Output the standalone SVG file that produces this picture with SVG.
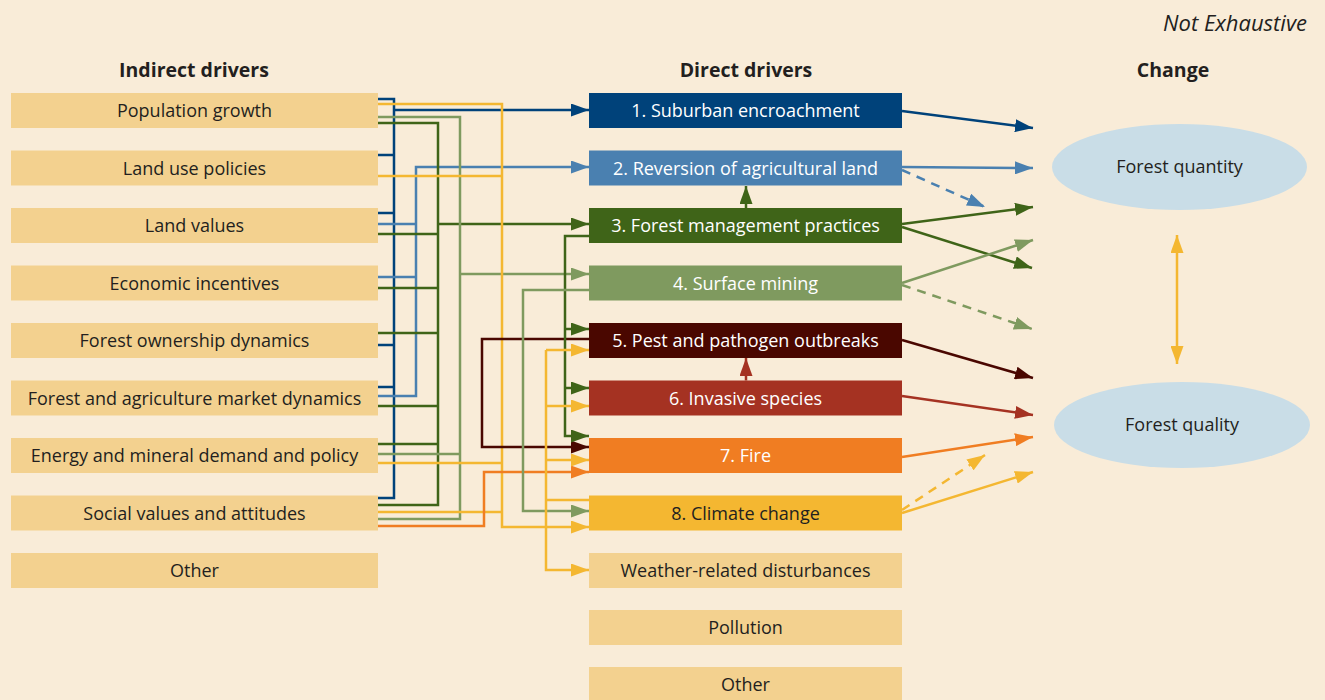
<svg xmlns="http://www.w3.org/2000/svg" width="1325" height="700" viewBox="0 0 1325 700">
<style>
.bg{fill:#f9ecd8}
.box{fill:#f3d18f}
.t{font-family:"Open Sans","Liberation Sans",sans-serif;font-size:18px;fill:#231f20;text-anchor:middle}
.w{fill:#ffffff}
.h{font-family:"Open Sans","Liberation Sans",sans-serif;font-size:19.5px;font-weight:bold;fill:#231f20;text-anchor:middle}
.c{fill:none;stroke-width:2.5;stroke-linejoin:miter}
.dash{stroke-dasharray:9 7}
.b1{stroke:#00427a}.b2{stroke:#4a80b0}.b3{stroke:#3f6418}.b4{stroke:#7f9a5f}.b5{stroke:#4a0700}.b6{stroke:#a53222}.b7{stroke:#f07d22}.b8{stroke:#f4b731}
</style>
<defs>
<marker id="m1" markerUnits="userSpaceOnUse" markerWidth="18" markerHeight="13" refX="18" refY="6.5" orient="auto"><path d="M0,0 L18,6.5 L0,13 z" fill="#00427a"/></marker>
<marker id="m2" markerUnits="userSpaceOnUse" markerWidth="18" markerHeight="13" refX="18" refY="6.5" orient="auto"><path d="M0,0 L18,6.5 L0,13 z" fill="#4a80b0"/></marker>
<marker id="m3" markerUnits="userSpaceOnUse" markerWidth="18" markerHeight="13" refX="18" refY="6.5" orient="auto"><path d="M0,0 L18,6.5 L0,13 z" fill="#3f6418"/></marker>
<marker id="m4" markerUnits="userSpaceOnUse" markerWidth="18" markerHeight="13" refX="18" refY="6.5" orient="auto"><path d="M0,0 L18,6.5 L0,13 z" fill="#7f9a5f"/></marker>
<marker id="m5" markerUnits="userSpaceOnUse" markerWidth="18" markerHeight="13" refX="18" refY="6.5" orient="auto"><path d="M0,0 L18,6.5 L0,13 z" fill="#4a0700"/></marker>
<marker id="m6" markerUnits="userSpaceOnUse" markerWidth="18" markerHeight="13" refX="18" refY="6.5" orient="auto"><path d="M0,0 L18,6.5 L0,13 z" fill="#a53222"/></marker>
<marker id="m7" markerUnits="userSpaceOnUse" markerWidth="18" markerHeight="13" refX="18" refY="6.5" orient="auto"><path d="M0,0 L18,6.5 L0,13 z" fill="#f07d22"/></marker>
<marker id="m8" markerUnits="userSpaceOnUse" markerWidth="18" markerHeight="13" refX="18" refY="6.5" orient="auto"><path d="M0,0 L18,6.5 L0,13 z" fill="#f4b731"/></marker>
<marker id="m8s" markerUnits="userSpaceOnUse" markerWidth="18" markerHeight="13" refX="18" refY="6.5" orient="auto-start-reverse"><path d="M0,0 L18,6.5 L0,13 z" fill="#f4b731"/></marker>
</defs>
<rect class="bg" x="0" y="0" width="1325" height="700"/>

<text x="1307" y="31" font-family="'Open Sans','Liberation Sans',sans-serif" font-size="22" font-style="italic" fill="#231f20" text-anchor="end">Not Exhaustive</text>
<text class="h" x="194" y="77">Indirect drivers</text>
<text class="h" x="746" y="77">Direct drivers</text>
<text class="h" x="1173" y="77">Change</text>

<g id="indirect-population"><rect class="box" x="11" y="93" width="367" height="35"/><text class="t" x="194.5" y="117">Population growth</text></g>
<g id="indirect-landuse"><rect class="box" x="11" y="150.5" width="367" height="35"/><text class="t" x="194.5" y="174.5">Land use policies</text></g>
<g id="indirect-landvalues"><rect class="box" x="11" y="208" width="367" height="35"/><text class="t" x="194.5" y="232">Land values</text></g>
<g id="indirect-economic"><rect class="box" x="11" y="265.5" width="367" height="35"/><text class="t" x="194.5" y="289.5">Economic incentives</text></g>
<g id="indirect-ownership"><rect class="box" x="11" y="323" width="367" height="35"/><text class="t" x="194.5" y="347">Forest ownership dynamics</text></g>
<g id="indirect-market"><rect class="box" x="11" y="380.5" width="367" height="35"/><text class="t" x="194.5" y="404.5">Forest and agriculture market dynamics</text></g>
<g id="indirect-energy"><rect class="box" x="11" y="438" width="367" height="35"/><text class="t" x="194.5" y="462">Energy and mineral demand and policy</text></g>
<g id="indirect-social"><rect class="box" x="11" y="495.5" width="367" height="35"/><text class="t" x="194.5" y="519.5">Social values and attitudes</text></g>
<g id="indirect-other"><rect class="box" x="11" y="553" width="367" height="35"/><text class="t" x="194.5" y="577">Other</text></g>

<g id="direct-1"><rect x="589" y="93" width="313" height="35" fill="#00427a"/><text class="t w" x="745.5" y="117">1. Suburban encroachment</text></g>
<g id="direct-2"><rect x="589" y="150.5" width="313" height="35" fill="#4a80b0"/><text class="t w" x="745.5" y="174.5">2. Reversion of agricultural land</text></g>
<g id="direct-3"><rect x="589" y="208" width="313" height="35" fill="#3f6418"/><text class="t w" x="745.5" y="232">3. Forest management practices</text></g>
<g id="direct-4"><rect x="589" y="265.5" width="313" height="35" fill="#7f9a5f"/><text class="t w" x="745.5" y="289.5">4. Surface mining</text></g>
<g id="direct-5"><rect x="589" y="323" width="313" height="35" fill="#4a0700"/><text class="t w" x="745.5" y="347">5. Pest and pathogen outbreaks</text></g>
<g id="direct-6"><rect x="589" y="380.5" width="313" height="35" fill="#a53222"/><text class="t w" x="745.5" y="404.5">6. Invasive species</text></g>
<g id="direct-7"><rect x="589" y="438" width="313" height="35" fill="#f07d22"/><text class="t w" x="745.5" y="462">7. Fire</text></g>
<g id="direct-8"><rect x="589" y="495.5" width="313" height="35" fill="#f4b731"/><text class="t" x="745.5" y="519.5">8. Climate change</text></g>
<g id="direct-weather"><rect class="box" x="589" y="553" width="313" height="35"/><text class="t" x="745.5" y="577">Weather-related disturbances</text></g>
<g id="direct-pollution"><rect class="box" x="589" y="610" width="313" height="35"/><text class="t" x="745.5" y="634">Pollution</text></g>
<g id="direct-other"><rect class="box" x="589" y="667" width="313" height="35"/><text class="t" x="745.5" y="691">Other</text></g>

<g id="change-quantity"><ellipse cx="1179.5" cy="167" rx="127.5" ry="43" fill="#c9dde7"/><text class="t" x="1179.5" y="173">Forest quantity</text></g>
<g id="change-quality"><ellipse cx="1182" cy="425" rx="128" ry="43" fill="#c9dde7"/><text class="t" x="1182" y="431">Forest quality</text></g>

<g id="connectors">
<path class="c b1" d="M378,99 H394 V498 H378 M378,155 H394 M378,213 H394 M378,345 H394 M378,387 H394"/>
<path class="c b1" d="M394,110 H589" marker-end="url(#m1)"/>
<path class="c b2" d="M378,224 H416 M378,277 H416"/>
<path class="c b2" d="M378,396 H416 V167 H589" marker-end="url(#m2)"/>
<path class="c b3" d="M378,123 H438 V505 H378 M378,234 H438 M378,288 H438 M378,333 H438 M378,406 H438 M378,444 H438"/>
<path class="c b3" d="M438,224 H589" marker-end="url(#m3)"/>
<path class="c b4" d="M378,117 H460 V519 H378 M378,454 H460"/>
<path class="c b4" d="M460,274 H589" marker-end="url(#m4)"/>
<path class="c b8" d="M378,176 H502 M378,463 H502 M378,512 H502"/>
<path class="c b8" d="M378,104 H502 V527 H589" marker-end="url(#m8)"/>
<path class="c b7" d="M378,526 H484 V472 H589" marker-end="url(#m7)"/>
<path class="c b5" d="M589,339 H482 V447 H589" marker-end="url(#m5)"/>
<path class="c b3" d="M589,236 H565 V436 H589" marker-end="url(#m3)"/>
<path class="c b3" d="M565,329 H589" marker-end="url(#m3)"/>
<path class="c b3" d="M565,388 H589" marker-end="url(#m3)"/>
<path class="c b4" d="M589,290 H523 V511 H589" marker-end="url(#m4)"/>
<path class="c b8" d="M589,500 H546"/>
<path class="c b8" d="M546,350 V570 H589" marker-end="url(#m8)"/>
<path class="c b8" d="M546,350 H589" marker-end="url(#m8)"/>
<path class="c b8" d="M546,406 H589" marker-end="url(#m8)"/>
<path class="c b8" d="M546,460 H589" marker-end="url(#m8)"/>
<path class="c b3" d="M746,208 V186" marker-end="url(#m3)"/>
<path class="c b6" d="M746,380.5 V358" marker-end="url(#m6)"/>
<path class="c b1" d="M902,111 L1033,128" marker-end="url(#m1)"/>
<path class="c b2" d="M902,167 L1033,168" marker-end="url(#m2)"/>
<path class="c b2 dash" d="M902,170 L985,207" marker-end="url(#m2)"/>
<path class="c b3" d="M902,224 L1033,207" marker-end="url(#m3)"/>
<path class="c b3" d="M902,227 L1032,268" marker-end="url(#m3)"/>
<path class="c b4" d="M902,283 L1033,240" marker-end="url(#m4)"/>
<path class="c b4 dash" d="M902,285 L1032,329" marker-end="url(#m4)"/>
<path class="c b5" d="M902,340 L1033,378" marker-end="url(#m5)"/>
<path class="c b6" d="M902,396 L1033,415" marker-end="url(#m6)"/>
<path class="c b7" d="M902,457 L1033,437" marker-end="url(#m7)"/>
<path class="c b8 dash" d="M902,510 L985,455" marker-end="url(#m8)"/>
<path class="c b8" d="M902,513 L1033,472" marker-end="url(#m8)"/>
<path class="c b8" d="M1177,235 V364" marker-start="url(#m8s)" marker-end="url(#m8s)"/>
</g>
</svg>
